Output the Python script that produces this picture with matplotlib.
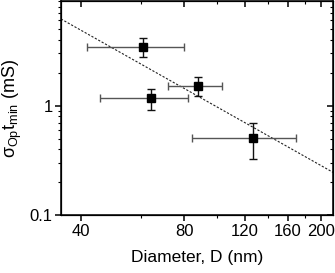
import matplotlib
matplotlib.use('Agg')
import matplotlib.pyplot as plt
from matplotlib.ticker import FixedLocator, NullFormatter, FixedFormatter

plt.rcParams['font.family'] = ['Liberation Sans', 'DejaVu Sans']
plt.rcParams['mathtext.fontset'] = 'custom'
plt.rcParams['mathtext.rm'] = 'Liberation Sans'
plt.rcParams['mathtext.it'] = 'Liberation Sans'

# data
diameter = [60.8, 63.9, 87.8, 126.7]
diameter_lo = [41.8, 45.4, 71.9, 84.2]
diameter_hi = [79.8, 81.9, 103.4, 169.3]
sigma_t = [3.45, 1.17, 1.52, 0.51]
sigma_t_lo = [2.78, 0.914, 1.22, 0.324]
sigma_t_hi = [4.12, 1.43, 1.83, 0.691]

fit_d = [35, 217]
fit_val = [6.18, 0.247]

x_major = [40, 80, 120, 160, 200]
x_minor = [60, 100, 140, 180]
y_major = [0.1, 1, 10]
y_minor = [v * s for s in (0.1, 1) for v in range(2, 10)]

fig = plt.figure(figsize=(3.35, 2.73), dpi=100)
ax = fig.add_axes([0.182, 0.211, 0.812, 0.787])

xerr = [[d - lo for d, lo in zip(diameter, diameter_lo)],
        [hi - d for d, hi in zip(diameter, diameter_hi)]]
yerr = [[v - lo for v, lo in zip(sigma_t, sigma_t_lo)],
        [hi - v for v, hi in zip(sigma_t, sigma_t_hi)]]

ax.plot(fit_d, fit_val, color='#222222', lw=0.8, ls=(0, (2, 1.5)))
ax.errorbar(diameter, sigma_t, xerr=xerr, fmt='none', ecolor='#555555',
            elinewidth=1.0, capsize=3, capthick=1.0)
ax.errorbar(diameter, sigma_t, yerr=yerr, fmt='none', ecolor='#111111',
            elinewidth=1.0, capsize=3, capthick=1.0)
ax.plot(diameter, sigma_t, 's', color='black', markersize=6.2, zorder=5)

ax.set_xscale('log')
ax.set_yscale('log')
ax.set_xlim(35, 217)
ax.set_ylim(0.1, 9.1)

ax.xaxis.set_major_locator(FixedLocator(x_major))
ax.xaxis.set_major_formatter(FixedFormatter([str(v) for v in x_major]))
ax.xaxis.set_minor_locator(FixedLocator(x_minor))
ax.xaxis.set_minor_formatter(NullFormatter())
ax.yaxis.set_major_locator(FixedLocator(y_major))
ax.yaxis.set_major_formatter(FixedFormatter(['0.1', '1', '10']))
ax.yaxis.set_minor_locator(FixedLocator(y_minor))
ax.yaxis.set_minor_formatter(NullFormatter())

ax.tick_params(which='major', direction='out', length=4, width=1.1, labelsize=12, pad=2)
ax.tick_params(which='minor', direction='out', length=2.5, width=0.8)
for sp in ax.spines.values():
    sp.set_linewidth(1.1)

# mirror ticks pointing inward on top and right
ax_top = ax.twiny()
ax_top.set_xscale('log')
ax_top.set_xlim(ax.get_xlim())
ax_top.xaxis.set_major_locator(FixedLocator(x_major))
ax_top.xaxis.set_minor_locator(FixedLocator(x_minor))
ax_top.xaxis.set_major_formatter(NullFormatter())
ax_top.xaxis.set_minor_formatter(NullFormatter())
ax_top.tick_params(which='major', direction='in', length=4, width=1.1)
ax_top.tick_params(which='minor', direction='in', length=2.5, width=0.8)

ax_right = ax.twinx()
ax_right.set_yscale('log')
ax_right.set_ylim(ax.get_ylim())
ax_right.yaxis.set_major_locator(FixedLocator(y_major))
ax_right.yaxis.set_minor_locator(FixedLocator(y_minor))
ax_right.yaxis.set_major_formatter(NullFormatter())
ax_right.yaxis.set_minor_formatter(NullFormatter())
ax_right.tick_params(which='major', direction='in', length=4, width=1.1)
ax_right.tick_params(which='minor', direction='in', length=2.5, width=0.8)

ax.set_xlabel('Diameter, D (nm)', fontsize=12.5, labelpad=8)
ax.set_ylabel(r'$\sigma_{\mathrm{Op}}\mathrm{t}_{\mathrm{min}}$ (mS)', fontsize=13, labelpad=4)

fig.savefig('out.png', dpi=100)
